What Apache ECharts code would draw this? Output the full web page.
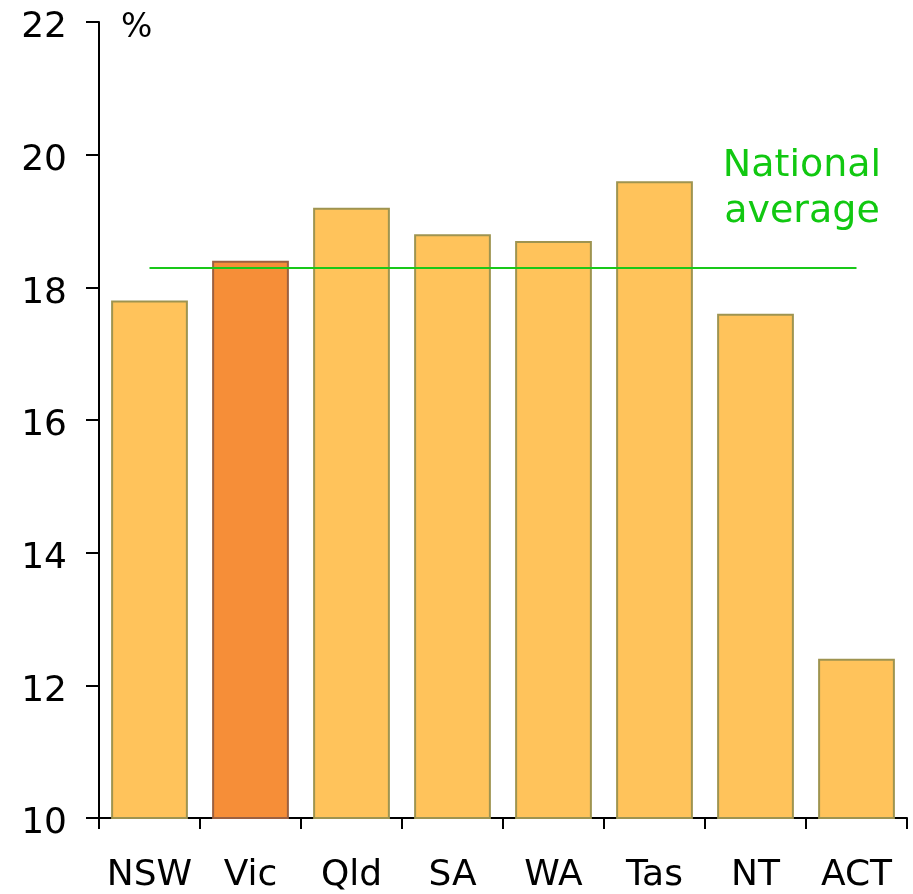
<!DOCTYPE html>
<html>
<head>
<meta charset="utf-8">
<script src="https://cdn.jsdelivr.net/npm/echarts@6/dist/echarts.min.js"></script>
<style>
  html, body { margin: 0; padding: 0; background: #fff; }
  #main { width: 913px; height: 894px; }
</style>
</head>
<body>
<div id="main"></div>
<script>
var states = ['NSW', 'Vic', 'Qld', 'SA', 'WA', 'Tas', 'NT', 'ACT']
var shares = [17.8, 18.4, 19.2, 18.8, 18.7, 19.6, 17.6, 12.4]
var nationalAverage = 18.3
var highlighted = 'Vic'

var font = 'DejaVu Sans'
var chart = echarts.init(document.getElementById('main'))

var option = {
  backgroundColor: '#fff',
  animation: false,
  grid: { left: 99, right: 6, top: 22, bottom: 74 },
  xAxis: {
    type: 'category',
    data: states,
    boundaryGap: true,
    axisLine: { lineStyle: { color: '#000', width: 2 } },
    axisTick: { show: true, interval: 0, alignWithLabel: false, length: 11, lineStyle: { color: '#000', width: 2 } },
    axisLabel: { interval: 0, color: '#000', fontFamily: font, fontSize: 36, margin: 40 }
  },
  yAxis: {
    type: 'value',
    min: 10,
    max: 22,
    interval: 2,
    splitLine: { show: false },
    axisLine: { show: true, lineStyle: { color: '#000', width: 2 } },
    axisTick: { show: true, inside: false, length: 13, lineStyle: { color: '#000', width: 2 } },
    axisLabel: {
      color: '#000', margin: 32,
      formatter: '{v|{value}}',
      rich: { v: { fontFamily: font, fontSize: 36, color: '#000', padding: [12, 0, 0, 0] } }
    }
  },
  series: [{
    type: 'bar',
    barCategoryGap: '24%',
    data: states.map(function (s, i) {
      var isHi = s == highlighted
      return {
        value: shares[i],
        itemStyle: {
          color: isHi ? '#F68E38' : '#FFC35B',
          borderColor: isHi ? '#9C6040' : '#9E9450',
          borderWidth: 2
        }
      }
    }),
    markLine: {
      silent: true,
      symbol: 'none',
      label: { show: false },
      lineStyle: { color: '#19C819', width: 2, type: 'solid' },
      data: [[
        { coord: [states[0], nationalAverage] },
        { coord: [states[states.length - 1], nationalAverage] }
      ]]
    }
  }],
  graphic: [
    {
      type: 'text',
      left: 121,
      top: 12,
      style: { text: '%', fill: '#000', font: '33px "DejaVu Sans"' }
    },
    {
      type: 'text',
      x: 802,
      y: 143,
      style: {
        text: 'National\naverage',
        fill: '#11C811',
        font: '38px "DejaVu Sans"',
        align: 'center',
        lineHeight: 46
      }
    }
  ]
}
chart.setOption(option)
</script>
</body>
</html>
